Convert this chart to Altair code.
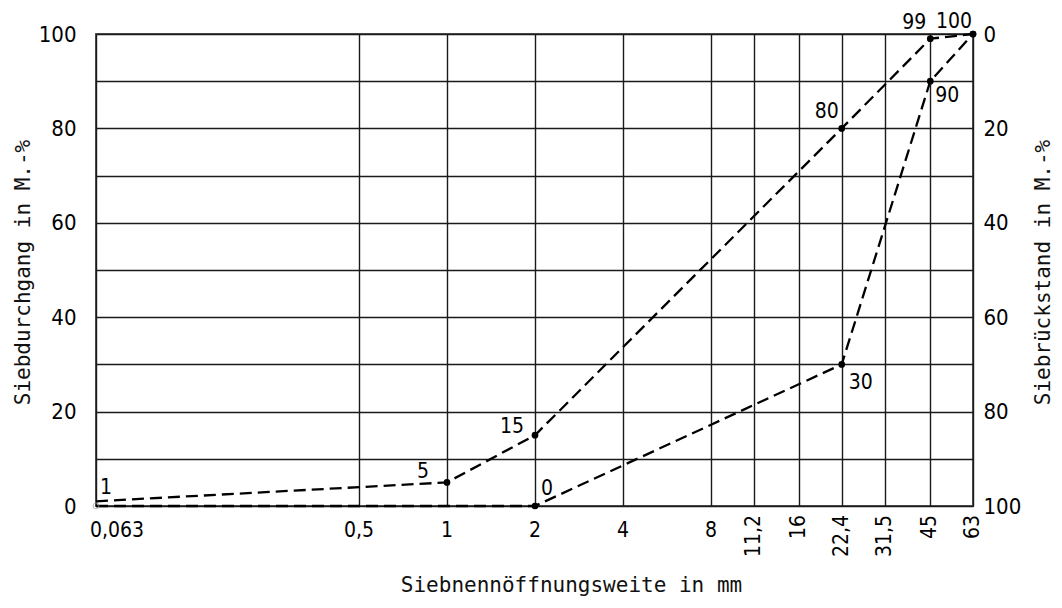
import altair as alt
import pandas as pd

# ---- data ----
sieve_sizes = [0.063, 0.5, 1, 2, 4, 8, 11.2, 16, 22.4, 31.5, 45, 63]
sieve_labels = ["0,063", "0,5", "1", "2", "4", "8", "11,2", "16", "22,4", "31,5", "45", "63"]

upper_sizes = [0.063, 1, 2, 22.4, 45, 63]
upper_pass = [1, 5, 15, 80, 99, 100]

lower_sizes = [0.063, 2, 22.4, 45, 63]
lower_pass = [0, 0, 30, 90, 100]

y_grid = [0, 10, 20, 30, 40, 50, 60, 70, 80, 90, 100]
y_labels = [0, 20, 40, 60, 80, 100]

# ---- style ----
FONT = "DejaVu Sans Condensed, Liberation Sans Narrow, DejaVu Sans"
TFONT = "DejaVu Sans Mono, Liberation Mono, monospace"
FS = 21
W, H = 877, 472

# label placement (series, size, align, dx, dy)
label_style = [
    ("upper", 0.063, "left", 4, -13),
    ("upper", 1, "right", -18, -10),
    ("upper", 2, "right", -11, -8),
    ("upper", 22.4, "right", -3, -16),
    ("upper", 45, "right", -4, -16),
    ("upper", 63, "right", -1, -12),
    ("lower", 2, "left", 6, -17),
    ("lower", 22.4, "left", 7, 19),
    ("lower", 45, "left", 5, 15),
]

curves = pd.DataFrame({
    "series": ["upper"] * len(upper_sizes) + ["lower"] * len(lower_sizes),
    "size": upper_sizes + lower_sizes,
    "passing": upper_pass + lower_pass,
    "order": list(range(len(upper_sizes))) + list(range(len(lower_sizes))),
})
curves["label"] = curves["passing"].astype(str)

ticks = pd.DataFrame({"size": sieve_sizes, "label": sieve_labels})

xscale = alt.Scale(type="log", domain=[sieve_sizes[0], sieve_sizes[-1]], nice=False)
yscale = alt.Scale(domain=[0, 100], nice=False)

x_axis = alt.Axis(
    values=sieve_sizes, grid=True, labels=False, ticks=False, domain=False,
    gridColor="#1a1a1a", gridWidth=1.4,
    title="Siebnennöffnungsweite in mm", titleFont=TFONT, titleFontSize=21,
    titleFontWeight="normal", titleColor="#111",
    titleX=475, titleAlign="center",
    titleY=85, titleBaseline="alphabetic",
)
y_axis = alt.Axis(
    values=y_grid, labelExpr="datum.value % 20 == 0 ? datum.label : ''",
    grid=True, ticks=False, domain=False, gridColor="#1a1a1a", gridWidth=1.4,
    labelPadding=20, labelFont=FONT, labelFontSize=22, labelColor="black",
    title="Siebdurchgang in M.-%", titleFont=TFONT, titleFontSize=FS,
    titleFontWeight="normal", titleColor="#111", titleAngle=270,
    titleX=-73, titleY=H / 2 + 2, titleAlign="center", titleBaseline="middle",
)
y_axis_right = alt.Axis(
    orient="right", values=y_labels, labelExpr="100 - datum.value",
    grid=False, ticks=False, domain=False,
    labelPadding=10, labelFont=FONT, labelFontSize=22, labelColor="black",
    title="Siebrückstand in M.-%", titleFont=TFONT, titleFontSize=FS,
    titleFontWeight="normal", titleColor="#111", titleAngle=270,
    titleX=70, titleY=H / 2 + 2, titleAlign="center", titleBaseline="middle",
)


def X():
    return alt.X("size:Q", scale=xscale, axis=x_axis)


def Y():
    return alt.Y("passing:Q", scale=yscale, axis=y_axis)


base = alt.Chart(curves)

lines = base.mark_line(strokeDash=[12, 6], strokeWidth=2.3, color="black").encode(
    x=X(), y=Y(), detail="series:N", order="order:Q",
)

points = base.mark_point(filled=True, size=45, color="black", opacity=1).encode(
    x=X(), y=Y(),
).transform_filter(alt.datum.size > sieve_sizes[0])

origin = base.mark_point(filled=False, size=35, color="#999", strokeWidth=1).encode(
    x=X(), y=Y(),
).transform_filter((alt.datum.size == sieve_sizes[0]) & (alt.datum.series == "lower"))

label_layers = []
for s, v, al, dx, dy in label_style:
    label_layers.append(
        base.mark_text(font=FONT, fontSize=FS, align=al, baseline="middle",
                       dx=dx, dy=dy, color="black").encode(
            x=X(), y=Y(), text="label:N",
        ).transform_filter((alt.datum.series == s) & (alt.datum.size == v))
    )

tbase = alt.Chart(ticks)
tick_first = tbase.mark_text(font=FONT, fontSize=FS, align="left", baseline="middle",
                             dx=-6, color="black").encode(
    x=X(), y=alt.value(H + 25), text="label:N",
).transform_filter(alt.datum.size == sieve_sizes[0])

tick_h = tbase.mark_text(font=FONT, fontSize=FS, align="center", baseline="middle",
                         color="black").encode(
    x=X(), y=alt.value(H + 25), text="label:N",
).transform_filter((alt.datum.size > sieve_sizes[0]) & (alt.datum.size <= 8))

tick_v = tbase.mark_text(font=FONT, fontSize=FS, align="right", baseline="middle",
                         angle=270, color="black").encode(
    x=X(), y=alt.value(H + 9), text="label:N",
).transform_filter(alt.datum.size > 8)

left_layer = alt.layer(lines, points, origin, *label_layers, tick_first, tick_h, tick_v)

right_layer = base.mark_point(opacity=0).encode(
    x=X(),
    y=alt.Y("passing:Q", scale=yscale, axis=y_axis_right),
)

chart = alt.layer(left_layer, right_layer).resolve_scale(y="independent").properties(
    width=W, height=H,
    autosize=alt.AutoSizeParams(type="none"),
    padding={"left": 88, "top": 26, "right": 81, "bottom": 90},
    background="white",
).configure_view(stroke="#555", strokeWidth=2)

chart.save("out.html", embed_options={"renderer": "svg", "actions": False})
